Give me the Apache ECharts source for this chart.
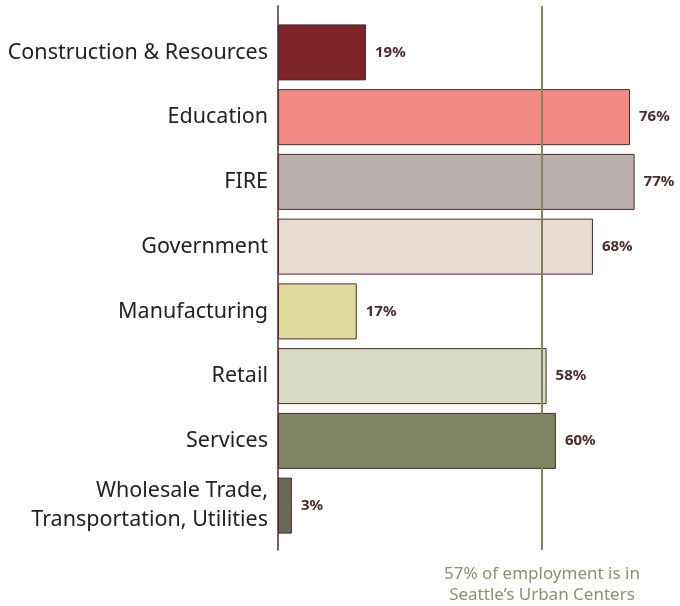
<!DOCTYPE html>
<html>
<head>
<meta charset="utf-8">
<script src="https://cdn.jsdelivr.net/npm/echarts@6/dist/echarts.min.js"></script>
<style>
  html, body { margin: 0; padding: 0; background: #fff; }
  #chart { width: 680px; height: 606px; }
</style>
</head>
<body>
<div id="chart"></div>
<script>
// Share of each sector's jobs located in urban centers (%)
const categories = [
  'Construction & Resources',
  'Education',
  'FIRE',
  'Government',
  'Manufacturing',
  'Retail',
  'Services',
  'Wholesale Trade,\nTransportation, Utilities'
];
const shares = [19, 76, 77, 68, 17, 58, 60, 3];
const barColors = ['#7d2427', '#f28b85', '#b9b0ad', '#e6dcd4', '#e2da9c', '#d8dcc5', '#7f8462', '#69695a'];
const overallShare = 57;
const overallNote = '57% of employment is in\nSeattle\u2019s Urban Centers';

const FONT = '"Noto Sans", "Open Sans", sans-serif';
const AXIS_MAX = 86.8;
const chart = echarts.init(document.getElementById('chart'));

chart.setOption({
  animation: false,
  grid: [
    { left: 278, top: 20, right: 0, height: 518 },
    { left: 278, top: 6, right: 0, height: 544 }
  ],
  xAxis: [
    { gridIndex: 0, type: 'value', min: 0, max: AXIS_MAX, show: false },
    { gridIndex: 1, type: 'value', min: 0, max: AXIS_MAX, show: false }
  ],
  yAxis: [
    {
      gridIndex: 0, type: 'category', data: categories, inverse: true,
      axisLine: { show: false }, axisTick: { show: false },
      axisLabel: { fontFamily: FONT, fontSize: 21.5, color: '#222', margin: 10, lineHeight: 29, align: 'right' }
    },
    {
      gridIndex: 1, type: 'value', min: 0, max: 1,
      axisLine: { show: true, lineStyle: { color: '#4a2c2c', width: 1.5 } },
      axisTick: { show: false }, axisLabel: { show: false }, splitLine: { show: false }
    }
  ],
  series: [
    {
      type: 'bar',
      xAxisIndex: 1, yAxisIndex: 1,
      data: [],
      silent: true,
      z: 1,
      markLine: {
        symbol: 'none', silent: true,
        lineStyle: { color: '#7f8462', width: 2, type: 'solid' },
        label: { show: false },
        data: [{ xAxis: overallShare }]
      }
    },
    {
      type: 'bar',
      xAxisIndex: 0, yAxisIndex: 0,
      z: 3,
      barWidth: 56,
      data: shares.map((v, i) => ({
        value: v,
        itemStyle: { color: barColors[i], borderColor: '#4a2c2c', borderWidth: 1 }
      })),
      label: {
        show: true, position: 'right', distance: 9,
        formatter: '{c}%', fontFamily: FONT, fontSize: 15, fontWeight: 'bold', color: '#4a2c2c'
      }
    }
  ]
});

// Caption under the reference line, positioned from the axis scale
const capX = chart.convertToPixel({ xAxisIndex: 1 }, overallShare);
chart.setOption({
  graphic: [{
    type: 'text',
    x: capX, y: 564,
    style: {
      text: overallNote, fontFamily: FONT, fontSize: 17, lineHeight: 21,
      fill: '#8a9070', align: 'center', verticalAlign: 'top'
    }
  }]
});
</script>
</body>
</html>
